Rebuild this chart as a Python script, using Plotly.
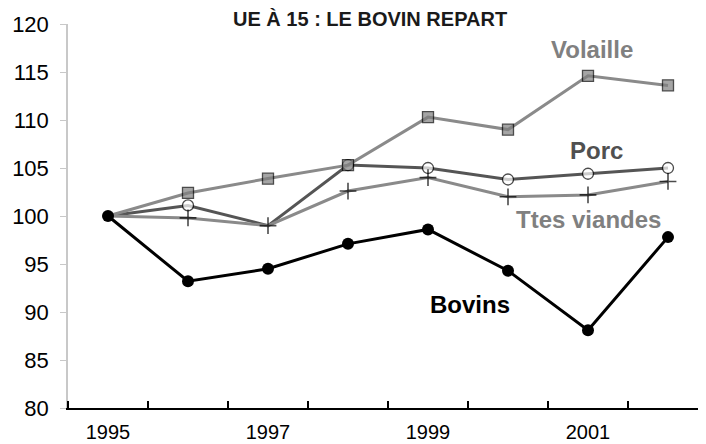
import plotly.graph_objects as go

years = ["1995", "1996", "1997", "1998", "1999", "2000", "2001", "2002"]
bovins = [100, 93.2, 94.5, 97.1, 98.6, 94.3, 88.1, 97.8]
volaille = [100, 102.4, 103.9, 105.3, 110.3, 109.0, 114.6, 113.6]
porc = [100, 101.1, 99.0, 105.3, 105.0, 103.8, 104.4, 105.0]
ttes_viandes = [100, 99.8, 99.0, 102.6, 104.0, 102.0, 102.2, 103.6]
y_ticks = [80, 85, 90, 95, 100, 105, 110, 115, 120]

FONT = "Liberation Sans, Arial, sans-serif"
xs = list(range(len(years)))


def sizes(base, hidden):
    s = [base] * len(years)
    for i in hidden:
        s[i] = 0
    return s


fig = go.Figure()

fig.add_trace(go.Scatter(
    x=xs, y=porc, mode="lines+markers", name="Porc",
    line=dict(color="#555555", width=3),
    marker=dict(symbol="circle", size=sizes(11, [0, 2]), color="white",
                line=dict(color="black", width=1.3)),
))
fig.add_trace(go.Scatter(
    x=xs, y=ttes_viandes, mode="lines+markers", name="Ttes viandes",
    line=dict(color="#8a8a8a", width=3),
    marker=dict(symbol="cross-thin", size=sizes(12, [0]), color="black",
                line=dict(color="black", width=1.6)),
))
fig.add_trace(go.Scatter(
    x=xs, y=volaille, mode="lines+markers", name="Volaille",
    line=dict(color="#8a8a8a", width=3),
    marker=dict(symbol="square", size=sizes(11, [0]), color="#7f7f7f",
                line=dict(color="black", width=1.3)),
))
fig.add_trace(go.Scatter(
    x=xs, y=bovins, mode="lines+markers", name="Bovins",
    line=dict(color="black", width=3),
    marker=dict(symbol="circle", size=12, color="black"),
))

ann = [
    ("Volaille", 6.05, 117.3, "#808080"),
    ("Porc", 6.1, 106.8, "#505050"),
    ("Ttes viandes", 6.0, 99.6, "#808080"),
    ("Bovins", 4.53, 90.8, "black"),
]
for txt, ax, ay, col in ann:
    fig.add_annotation(x=ax, y=ay, text="<b>%s</b>" % txt, showarrow=False,
                       font=dict(family=FONT, size=24, color=col),
                       xanchor="center", yanchor="middle")

fig.add_annotation(x=0.472, y=1.047, xref="paper", yref="paper",
                   text="<b>UE À 15 : LE BOVIN REPART</b>", showarrow=False,
                   xanchor="center", yanchor="top",
                   font=dict(family=FONT, size=20, color="#1a1a1a"))

fig.update_layout(
    width=706, height=444,
    margin=dict(l=60, r=6, t=16, b=44),
    paper_bgcolor="white", plot_bgcolor="white",
    showlegend=False,
    font=dict(family=FONT, size=20, color="black"),
)
fig.update_xaxes(
    range=[-0.5, 7.5], showgrid=False, zeroline=False, automargin=False,
    showline=True, linecolor="black", linewidth=2,
    tickmode="array", tickvals=xs[::2], ticktext=years[::2], ticks="",
    ticklabelstandoff=5,
    tickfont=dict(family=FONT, size=20, color="black"),
    minor=dict(tickmode="linear", tick0=-0.5, dtick=1, ticks="inside",
               ticklen=7, tickcolor="black", tickwidth=1.5, showgrid=False),
)
fig.update_yaxes(
    range=[80, 120], showgrid=False, zeroline=False, automargin=False,
    showline=True, linecolor="#c8c8c8", linewidth=1.5,
    tickmode="array", tickvals=y_ticks, ticks="outside", ticklen=6,
    tickcolor="#c8c8c8", ticklabelstandoff=7,
    tickfont=dict(family=FONT, size=22, color="black"),
)

fig.write_html("out.html")
